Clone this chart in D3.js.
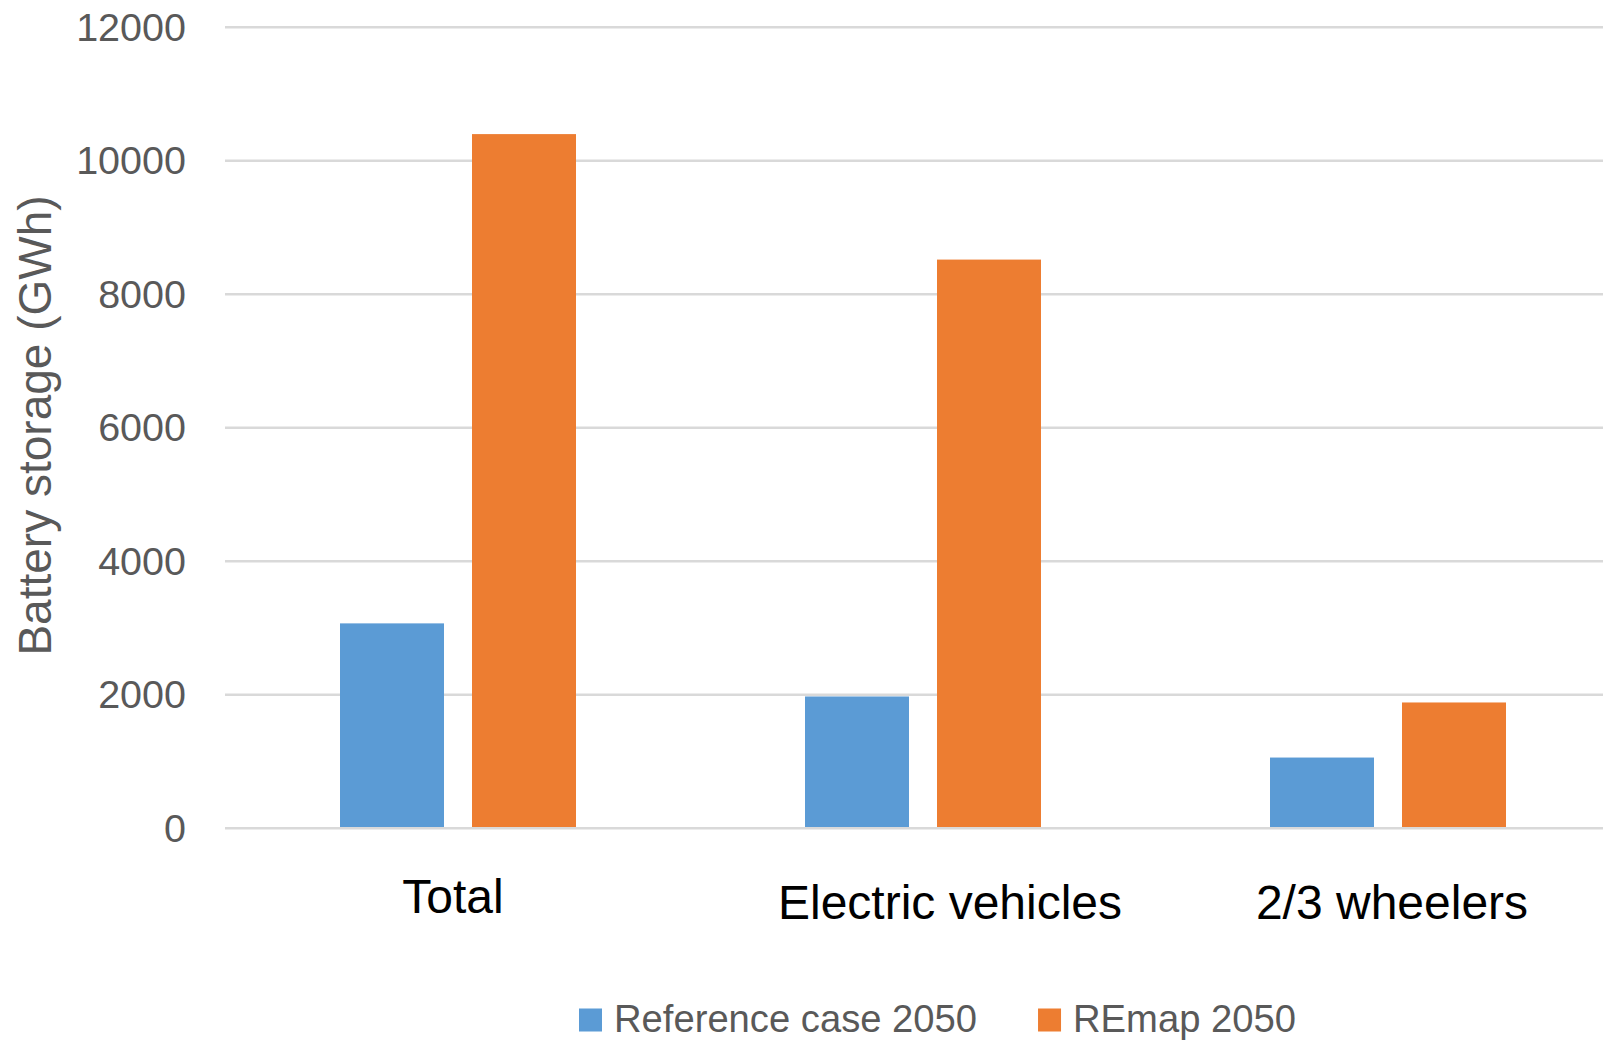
<!DOCTYPE html>
<html>
<head>
<meta charset="utf-8">
<script src="https://cdn.jsdelivr.net/npm/d3@7"></script>
<style>
  html, body { margin: 0; padding: 0; background: #fff; }
  svg { display: block; }
  text { font-family: "Liberation Sans", Arial, sans-serif; }
</style>
</head>
<body>
<svg id="chart" width="1603" height="1041"></svg>
<script>
// Battery storage by segment, GWh
const categories = ["Total", "Electric vehicles", "2/3 wheelers"];
const seriesNames = ["Reference case 2050", "REmap 2050"];
const referenceCase = [3070, 1975, 1060];
const remap = [10400, 8520, 1885];
const yTicks = [0, 2000, 4000, 6000, 8000, 10000, 12000];
const colors = ["#5B9BD5", "#ED7D31"];

const seriesValues = [referenceCase, remap];

const svg = d3.select("#chart");

// plot area (the third category's band runs past the right edge)
const x0 = d3.scaleBand().domain(categories).range([225.5, 1620.5]).paddingInner(0).paddingOuter(0);
const x1 = d3.scaleBand().domain(seriesNames)
  .range([x0.bandwidth() / 2 - 118, x0.bandwidth() / 2 + 118])
  .paddingInner(28 / 132).paddingOuter(0);
const y = d3.scaleLinear().domain([0, 12000]).range([828.3, 27.3]);

// horizontal gridlines
svg.append("g")
  .selectAll("line")
  .data(yTicks)
  .join("line")
  .attr("x1", 225)
  .attr("x2", 1603)
  .attr("y1", d => y(d))
  .attr("y2", d => y(d))
  .attr("stroke", "#d9d9d9")
  .attr("stroke-width", 2.6);

// y axis tick labels
const yAxis = d3.axisLeft(y).tickValues(yTicks).tickSize(0).tickPadding(0).tickFormat(d3.format("d"));
const yAxisG = svg.append("g").attr("transform", "translate(186,0)").call(yAxis);
yAxisG.select(".domain").remove();
yAxisG.selectAll("text")
  .attr("fill", "#595959")
  .style("font-size", "39.5px")
  .style("font-family", "'Liberation Sans', Arial, sans-serif")
  .attr("dy", null)
  .attr("y", 13);

// y axis title
svg.append("text")
  .attr("transform", "translate(51,425.5) rotate(-90)")
  .attr("text-anchor", "middle")
  .attr("fill", "#595959")
  .style("font-size", "46px")
  .text("Battery storage (GWh)");

// bars
const groups = svg.append("g")
  .selectAll("g")
  .data(categories)
  .join("g")
  .attr("transform", d => `translate(${x0(d)},0)`);

groups.selectAll("rect")
  .data((d, i) => seriesNames.map((s, j) => ({ series: s, value: seriesValues[j][i], color: colors[j] })))
  .join("rect")
  .attr("x", d => x1(d.series))
  .attr("width", x1.bandwidth())
  .attr("y", d => y(d.value))
  .attr("height", d => y(0) - y(d.value) - 1.3)
  .attr("fill", d => d.color);

// category labels (small per-label nudges for the layout of the axis text)
const labelNudge = { "Total": [-5, -6], "Electric vehicles": [27, 0], "2/3 wheelers": [4, 0] };
const xAxis = d3.axisBottom(x0).tickSize(0).tickPadding(0);
const xAxisG = svg.append("g").call(xAxis);
xAxisG.select(".domain").remove();
xAxisG.selectAll("text")
  .attr("fill", "#000")
  .style("font-size", "48px")
  .style("font-family", "'Liberation Sans', Arial, sans-serif")
  .attr("dy", null)
  .attr("x", d => labelNudge[d][0])
  .attr("y", d => 919 + labelNudge[d][1]);

// legend
const legend = svg.append("g").attr("transform", "translate(579,0)");
let cursor = 0;
seriesNames.forEach((name, i) => {
  const item = legend.append("g").attr("transform", `translate(${cursor},0)`);
  item.append("rect")
    .attr("x", 0).attr("y", 1008.5)
    .attr("width", 23).attr("height", 23)
    .attr("fill", colors[i]);
  const t = item.append("text")
    .attr("x", 35).attr("y", 1031.5)
    .attr("fill", "#595959")
    .style("font-size", "38.2px")
    .text(name);
  cursor += 35 + t.node().getComputedTextLength() + 61;
});
</script>
</body>
</html>
